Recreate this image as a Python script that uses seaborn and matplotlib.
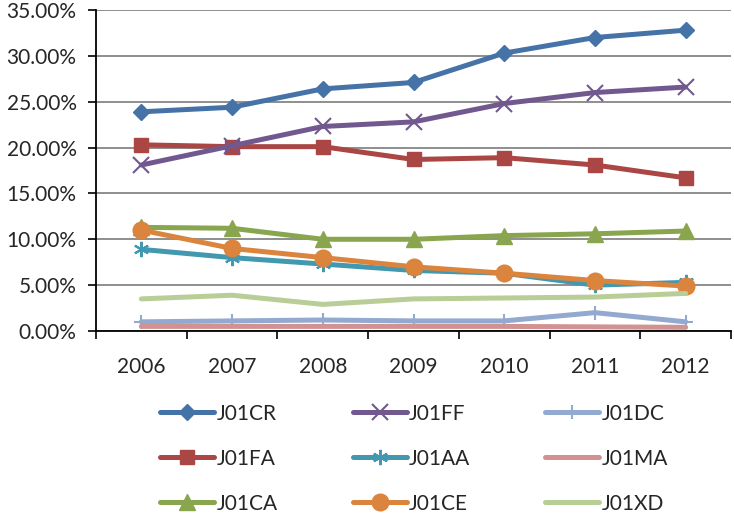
import matplotlib
matplotlib.use("Agg")
import matplotlib.pyplot as plt
import numpy as np
import seaborn as sns
from matplotlib.ticker import FuncFormatter, FixedLocator

# Years on the category axis
years = [2006, 2007, 2008, 2009, 2010, 2011, 2012]

# Share of each ATC class (percent)
j01cr = [23.9, 24.4, 26.4, 27.1, 30.3, 32.0, 32.8]
j01fa = [20.3, 20.1, 20.1, 18.7, 18.9, 18.1, 16.7]
j01ca = [11.3, 11.2, 10.0, 10.0, 10.4, 10.6, 10.9]
j01ff = [18.1, 20.2, 22.3, 22.8, 24.8, 26.0, 26.6]
j01aa = [8.9, 8.0, 7.3, 6.6, 6.3, 5.0, 5.3]
j01ce = [11.0, 9.0, 8.0, 7.0, 6.3, 5.5, 4.9]
j01dc = [1.0, 1.1, 1.2, 1.1, 1.1, 2.0, 1.0]
j01ma = [0.5, 0.5, 0.5, 0.5, 0.5, 0.45, 0.4]
j01xd = [3.5, 3.9, 2.9, 3.5, 3.6, 3.7, 4.1]

series = {
    "J01CR": j01cr, "J01FA": j01fa, "J01CA": j01ca,
    "J01FF": j01ff, "J01AA": j01aa, "J01CE": j01ce,
    "J01DC": j01dc, "J01MA": j01ma, "J01XD": j01xd,
}

# colour, marker, marker size, marker edge width
styles = {
    "J01CR": ("#4572A7", "D", 8.5, 1),
    "J01FA": ("#AA4643", "s", 10, 1),
    "J01CA": ("#89A54E", "^", 12, 1),
    "J01FF": ("#71588F", "x", 11, 1.5),
    "J01AA": ("#4198AF", (6, 2, 0), 11, 1.5),
    "J01CE": ("#DB843D", "o", 12, 1),
    "J01DC": ("#93A9CF", "+", 10, 1.5),
    "J01MA": ("#D09392", None, 0, 0),
    "J01XD": ("#B9CD96", None, 0, 0),
}

sns.set_style("white")
plt.rcParams["font.family"] = ["Lato", "DejaVu Sans"]

fig = plt.figure(figsize=(7.34, 5.14), dpi=100)
ax = fig.add_axes([96 / 734, 1 - 331 / 514, 635 / 734, 321 / 514])

for name, vals in series.items():
    color, marker, ms, mew = styles[name]
    sns.lineplot(x=years, y=vals, ax=ax, color=color, linewidth=3.6,
                 marker=marker, markersize=ms, markeredgewidth=mew,
                 markeredgecolor=color, label=name)

# Axes styling in the old spreadsheet look
ax.set_ylim(0, 35)
ax.set_xlim(years[0] - 0.5, years[-1] + 0.5)
ax.set_yticks(np.arange(0, 36, 5))
ax.yaxis.set_major_formatter(FuncFormatter(lambda v, p: f"{v:.2f}%"))
ax.grid(axis="y", color="#868686", linewidth=1.3)
ax.set_axisbelow(True)

# category boundaries get the tick marks, labels sit in the middle
ax.xaxis.set_major_locator(FixedLocator([y - 0.5 for y in years] + [years[-1] + 0.5]))
ax.xaxis.set_major_formatter(FuncFormatter(lambda v, p: ""))
ax.xaxis.set_minor_locator(FixedLocator(years))
ax.xaxis.set_minor_formatter(FuncFormatter(lambda v, p: f"{int(round(v))}"))
ax.tick_params(axis="x", which="major", length=6, width=1.2, color="black", direction="out", bottom=True)
ax.tick_params(axis="x", which="minor", length=0, pad=19, labelsize=15)
ax.tick_params(axis="y", length=6, width=1.2, color="black", direction="out", left=True, pad=8, labelsize=15)

for side in ["top", "right"]:
    ax.spines[side].set_visible(False)
for side in ["left", "bottom"]:
    ax.spines[side].set_color("black")
    ax.spines[side].set_linewidth(1.3)

ax.set_xlabel("")
ax.set_ylabel("")

ax.legend(loc="upper center", bbox_to_anchor=(414 / 734, 1 - 385 / 514),
          bbox_transform=fig.transFigure, ncol=3, frameon=False,
          fontsize=15, handlelength=2.6, handletextpad=0.1,
          columnspacing=3.6, labelspacing=1.2)

plt.savefig("out.png", dpi=100)
